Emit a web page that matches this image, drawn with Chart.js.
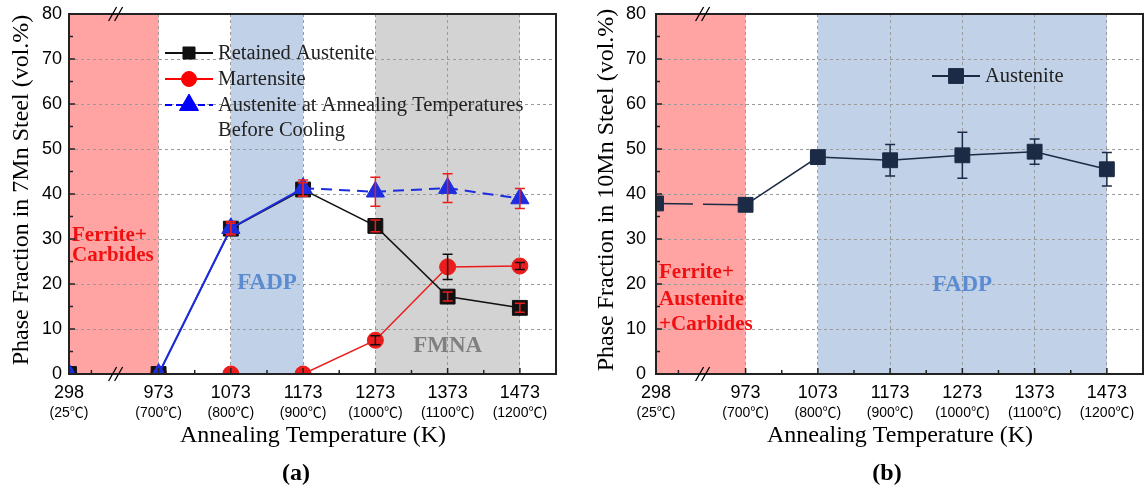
<!DOCTYPE html>
<html>
<head>
<meta charset="utf-8">
<script src="https://cdn.jsdelivr.net/npm/chart.js@4.4.1/dist/chart.umd.min.js"></script>
<style>
  html, body { margin: 0; padding: 0; background: #fff; }
  #wrap { position: relative; width: 1148px; height: 491px; }
  .panel { position: absolute; top: 0; width: 574px; height: 491px; }
  #pa { left: 0; }
  #pb { left: 574px; }
</style>
</head>
<body>
<div id="wrap">
  <div class="panel" id="pa"><canvas id="chartA"></canvas></div>
  <div class="panel" id="pb"><canvas id="chartB"></canvas></div>
</div>
<script>
'use strict';

// ── DATA ─────────────────────────────────────────────────────

const TEMPS_K = ['298', '973', '1073', '1173', '1273', '1373', '1473'];
const TEMPS_C = ['(25℃)', '(700℃)', '(800℃)', '(900℃)', '(1000℃)', '(1100℃)', '(1200℃)'];

// panel (a) – 7Mn steel
const RETAINED       = [0, 0, 32.3, 41.0, 32.9, 17.2, 14.7];
const RETAINED_ERR   = [0, 0, 1.2, 1.5, 1.3, 1.0, 1.0];
const MARTENSITE     = [0, 0, 0, 0, 7.5, 23.8, 24.0];
const MARTENSITE_ERR = [0, 0, 0, 0, 1.0, 2.8, 0.8];
const AUST_ANNEAL     = [0, 0, 32.4, 41.3, 40.5, 41.3, 39.0];
const AUST_ANNEAL_ERR = [0, 0, 1.5, 1.8, 3.2, 3.2, 2.2];

// panel (b) – 10Mn steel
const AUSTENITE_10     = [37.9, 37.6, 48.2, 47.5, 48.6, 49.4, 45.5];
const AUSTENITE_10_ERR = [0, 0, 0.6, 3.5, 5.1, 2.8, 3.7];

// ── STYLE ────────────────────────────────────────────────────

const SERIF = '"Liberation Serif", "Times New Roman", serif';
const SANS  = '"Liberation Sans", Arial, "Noto Sans CJK SC", sans-serif';

const RED   = '#ec1c1c';
const BLUE  = '#1c2de0';
const BLACK = '#111111';
const NAVY  = '#1c2b45';

const PINK_BG = '#ffa3a3';
const BLUE_BG = '#c1d1e7';
const GRAY_BG = '#d3d3d3';
const GRID    = '#9a9a9a';

const BREAK_GAP = 1.24;   // axis width of the broken 298→973 segment
const catPos = i => (i === 0 ? -BREAK_GAP : i - 1);
const toPts = vals => vals.map((v, i) => ({ x: catPos(i), y: v }));

// ── PLUGIN ───────────────────────────────────────────────────

function panelPlugin(p) {
  return {
    id: 'panel' + p.key,

    beforeDraw(chart) {
      const { ctx, chartArea: a, scales: { x } } = chart;
      ctx.save();
      ctx.fillStyle = '#fff';
      ctx.fillRect(0, 0, chart.width, chart.height);
      p.regions.forEach(r => {
        const x0 = x.getPixelForValue(catPos(r.from));
        const x1 = x.getPixelForValue(catPos(r.to));
        ctx.fillStyle = r.color;
        ctx.fillRect(x0, a.top, x1 - x0, a.bottom - a.top);
      });
      ctx.restore();
    },

    beforeDatasetsDraw(chart) {
      const { ctx, chartArea: a, scales: { x, y } } = chart;
      ctx.save();
      ctx.textBaseline = 'middle';
      p.notes.forEach(n => {
        ctx.font = 'bold ' + n.size + 'px ' + SERIF;
        ctx.fillStyle = n.color;
        if (n.left) {
          ctx.textAlign = 'left';
          n.lines.forEach((t, k) => ctx.fillText(t, a.left + 3, y.getPixelForValue(n.y[k])));
        } else {
          ctx.textAlign = 'center';
          ctx.fillText(n.lines[0], x.getPixelForValue(n.x), y.getPixelForValue(n.y[0]));
        }
      });
      ctx.restore();
    },

    afterDatasetsDraw(chart) {
      const { ctx, scales: { y } } = chart;
      ctx.save();
      chart.data.datasets.forEach((ds, di) => {
        if (!ds.errors) return;
        const meta = chart.getDatasetMeta(di);
        ctx.strokeStyle = ds.errorColor;
        ctx.lineWidth = 1.5;
        meta.data.forEach((pt, i) => {
          const e = ds.errors[i];
          if (!e) return;
          const v = ds.data[i].y;
          const yT = y.getPixelForValue(v + e), yB = y.getPixelForValue(v - e);
          ctx.beginPath();
          ctx.moveTo(pt.x, yT); ctx.lineTo(pt.x, yB);
          ctx.moveTo(pt.x - 5, yT); ctx.lineTo(pt.x + 5, yT);
          ctx.moveTo(pt.x - 5, yB); ctx.lineTo(pt.x + 5, yB);
          ctx.stroke();
        });
      });
      ctx.restore();
    },

    afterDraw(chart) {
      const { ctx, chartArea: a, scales: { x, y } } = chart;
      ctx.save();

      // frame
      ctx.strokeStyle = '#222';
      ctx.lineWidth = 2;
      ctx.strokeRect(a.left, a.top, a.right - a.left, a.bottom - a.top);

      // inward ticks
      ctx.lineWidth = 1.5;
      ctx.beginPath();
      TEMPS_K.forEach((_, i) => {
        const px = x.getPixelForValue(catPos(i));
        ctx.moveTo(px, a.bottom); ctx.lineTo(px, a.bottom - 6);
      });
      [-0.93, 0.5, 1.5, 2.5, 3.5, 4.5].forEach(v => {
        const px = x.getPixelForValue(v);
        ctx.moveTo(px, a.bottom); ctx.lineTo(px, a.bottom - 4);
      });
      for (let v = 0; v <= 80; v += 5) {
        const py = y.getPixelForValue(v);
        ctx.moveTo(a.left, py); ctx.lineTo(a.left + (v % 10 ? 4 : 6), py);
      }
      ctx.stroke();

      // axis break marks
      const bx = x.getPixelForValue(-BREAK_GAP * 0.48);
      ctx.lineWidth = 1.3;
      ctx.strokeStyle = '#000';
      [a.top, a.bottom].forEach(cy => {
        ctx.beginPath();
        [-3, 3].forEach(dx => {
          ctx.moveTo(bx + dx - 4, cy + 7);
          ctx.lineTo(bx + dx + 4, cy - 7);
        });
        ctx.stroke();
      });

      // x tick labels
      ctx.fillStyle = '#000';
      ctx.textAlign = 'center';
      ctx.textBaseline = 'middle';
      TEMPS_K.forEach((t, i) => {
        const px = x.getPixelForValue(catPos(i));
        ctx.font = '18px ' + SANS;
        ctx.fillText(t, px, 393);
        ctx.font = '14px ' + SANS;
        ctx.fillText(TEMPS_C[i], px, 413);
      });

      // axis titles + panel label
      ctx.font = '24px ' + SERIF;
      ctx.fillText('Annealing Temperature (K)', p.xTitleX, 436);
      ctx.font = 'bold 24px ' + SERIF;
      ctx.fillText(p.panelLabel, p.panelLabelX, 474);
      ctx.save();
      ctx.translate(p.yTitleX, 190);
      ctx.rotate(-Math.PI / 2);
      ctx.font = '24px ' + SERIF;
      ctx.fillText(p.yTitle, 0, 0);
      ctx.restore();

      // legend
      ctx.textAlign = 'left';
      ctx.font = '20.5px ' + SERIF;
      p.legend.forEach(it => {
        ctx.strokeStyle = it.color;
        ctx.fillStyle = it.color;
        ctx.lineWidth = 1.8;
        ctx.setLineDash(it.dash || []);
        ctx.beginPath();
        ctx.moveTo(p.legendX, it.y); ctx.lineTo(p.legendX + 48, it.y);
        ctx.stroke();
        ctx.setLineDash([]);
        ctx.lineWidth = 1;
        Chart.helpers.drawPoint(ctx, { pointStyle: it.style, radius: it.radius, rotation: 0, borderWidth: 1 },
          p.legendX + 24, it.y);
        ctx.fillStyle = '#222';
        it.text.forEach((t, k) => ctx.fillText(t, p.legendX + 53, it.y + 1 + k * 25));
      });

      ctx.restore();
    },
  };
}

// ── CHART OPTIONS ────────────────────────────────────────────

function makeOptions(yWidth, rightPad, yPad) {
  return {
    responsive: true,
    maintainAspectRatio: false,
    animation: false,
    devicePixelRatio: 1,
    layout: { autoPadding: false, padding: { top: 14, right: rightPad, left: 0, bottom: 0 } },
    plugins: { legend: { display: false }, tooltip: { enabled: false } },
    scales: {
      x: {
        type: 'linear',
        min: -BREAK_GAP,
        max: 5.5,
        afterBuildTicks: s => { s.ticks = TEMPS_K.map((_, i) => ({ value: catPos(i) })); },
        afterFit: s => { s.height = 117; s.paddingLeft = 0; s.paddingRight = 0; },
        ticks: { display: false },
        grid: { color: GRID, lineWidth: 1, drawTicks: false },
        border: { display: false, dash: [3, 3] },
      },
      y: {
        min: 0,
        max: 80,
        afterFit: s => { s.width = yWidth; s.paddingTop = 0; s.paddingBottom = 0; },
        ticks: { stepSize: 10, color: '#000', padding: yPad, font: { family: SANS, size: 18 } },
        grid: { color: GRID, lineWidth: 1, drawTicks: false },
        border: { display: false, dash: [3, 3] },
      },
    },
  };
}

// ── PANEL (a) ────────────────────────────────────────────────

new Chart(document.getElementById('chartA'), {
  type: 'line',
  data: {
    datasets: [
      {
        label: 'Martensite',
        data: toPts(MARTENSITE),
        errors: MARTENSITE_ERR,
        errorColor: BLACK,
        borderColor: RED,
        backgroundColor: RED,
        borderWidth: 1.5,
        pointStyle: 'circle',
        pointRadius: 8,
        pointBorderWidth: 1,
        clip: 1,
        order: 3,
      },
      {
        label: 'Retained Austenite',
        data: toPts(RETAINED),
        errors: RETAINED_ERR,
        errorColor: RED,
        borderColor: BLACK,
        backgroundColor: BLACK,
        borderWidth: 1.5,
        pointStyle: 'rect',
        pointRadius: 10.5,
        pointBorderWidth: 1,
        clip: 1,
        order: 2,
      },
      {
        label: 'Austenite at Annealing Temperatures Before Cooling',
        data: toPts(AUST_ANNEAL),
        errors: AUST_ANNEAL_ERR,
        errorColor: RED,
        borderColor: BLUE,
        backgroundColor: BLUE,
        borderWidth: 2,
        pointStyle: 'triangle',
        pointRadius: 10.5,
        pointBorderWidth: 1,
        clip: 1,
        segment: { borderDash: c => (c.p0DataIndex >= 3 || c.p0DataIndex === 0 ? [11, 7] : undefined) },
        order: 1,
      },
    ],
  },
  options: makeOptions(69, 18, 7),
  plugins: [panelPlugin({
    key: 'A',
    regions: [
      { from: 0, to: 1, color: PINK_BG },
      { from: 2, to: 3, color: BLUE_BG },
      { from: 4, to: 6, color: GRAY_BG },
    ],
    notes: [
      { lines: ['Ferrite+', 'Carbides'], y: [30.7, 26.3], left: true, size: 21, color: '#f01010' },
      { lines: ['FADP'], x: 1.5, y: [20.2], size: 23, color: '#5b8cd2' },
      { lines: ['FMNA'], x: 4, y: [6.2], size: 23, color: '#808080' },
    ],
    legendX: 165,
    legend: [
      { text: ['Retained Austenite'], color: BLACK, style: 'rect', radius: 8.5, y: 53 },
      { text: ['Martensite'], color: '#ff0000', style: 'circle', radius: 7.5, y: 79 },
      { text: ['Austenite at Annealing Temperatures', 'Before Cooling'], color: '#0000ff',
        style: 'triangle', radius: 11, y: 105, dash: [7, 4] },
    ],
    xTitleX: 313,
    yTitleX: 22,
    yTitle: 'Phase Fraction in 7Mn Steel (vol.%)',
    panelLabel: '(a)',
    panelLabelX: 296,
  })],
});

// ── PANEL (b) ────────────────────────────────────────────────

new Chart(document.getElementById('chartB'), {
  type: 'line',
  data: {
    datasets: [{
      label: 'Austenite',
      data: toPts(AUSTENITE_10),
      errors: AUSTENITE_10_ERR,
      errorColor: NAVY,
      borderColor: NAVY,
      backgroundColor: NAVY,
      borderWidth: 1.5,
      pointStyle: 'rect',
      pointRadius: 10.5,
      pointBorderWidth: 1,
      clip: 1,
      segment: { borderDash: c => (c.p0DataIndex === 0 ? [37, 10] : undefined) },
    }],
  },
  options: makeOptions(82, 5, 10),
  plugins: [panelPlugin({
    key: 'B',
    regions: [
      { from: 0, to: 1, color: PINK_BG },
      { from: 2, to: 6, color: BLUE_BG },
    ],
    notes: [
      { lines: ['Ferrite+', 'Austenite', '+Carbides'], y: [22.5, 16.6, 10.9], left: true, size: 21, color: '#f01010' },
      { lines: ['FADP'], x: 3, y: [19.8], size: 23, color: '#5b8cd2' },
    ],
    legendX: 358,
    legend: [
      { text: ['Austenite'], color: NAVY, style: 'rect', radius: 10.5, y: 76 },
    ],
    xTitleX: 326,
    yTitleX: 33,
    yTitle: 'Phase Fraction in 10Mn Steel (vol.%)',
    panelLabel: '(b)',
    panelLabelX: 313,
  })],
});
</script>
</body>
</html>
